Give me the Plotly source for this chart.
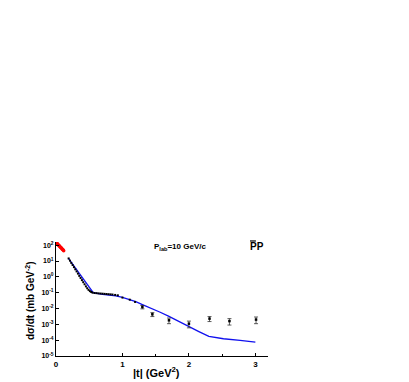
import plotly.graph_objects as go

# Red data points (Coulomb-nuclear region)
red_t = [0.004, 0.012, 0.020, 0.028, 0.036, 0.044, 0.052, 0.060, 0.068, 0.076, 0.084, 0.092, 0.100, 0.108, 0.116]
red_y = [150, 135, 122, 112, 102, 95, 88, 80, 74, 68, 63, 58, 53, 49, 45]

# Black data points (error bars visible only at large |t|)
data_t = [0.19, 0.21, 0.23, 0.25, 0.27, 0.29, 0.31, 0.33, 0.35, 0.37, 0.39, 0.41, 0.43, 0.45, 0.47,
          0.49, 0.51, 0.53, 0.55, 0.58, 0.61, 0.64, 0.67, 0.70, 0.73, 0.76, 0.79, 0.82, 0.85,
          0.89, 0.93, 1.00, 1.11, 1.19, 1.30, 1.45, 1.70, 2.00, 2.31, 2.61, 3.01]
data_y = [14.5, 10.5, 7.6, 5.6, 4.1, 3.0, 2.2, 1.6, 1.15, 0.85, 0.62, 0.46, 0.34, 0.25, 0.19,
          0.15, 0.125, 0.11, 0.10, 0.095, 0.093, 0.090, 0.088, 0.086, 0.084, 0.082, 0.080, 0.078, 0.076,
          0.072, 0.068, 0.049, 0.036, 0.026, 0.0125, 0.0043, 0.0018, 0.0011, 0.0023, 0.0016, 0.0020]
data_err = [0, 0, 0, 0, 0, 0, 0, 0, 0, 0, 0, 0, 0, 0, 0,
            0, 0, 0, 0, 0, 0, 0, 0, 0, 0, 0, 0, 0, 0,
            0, 0, 0, 0, 0, 0.0030, 0.0012, 0.0007, 0.0005, 0.0008, 0.0007, 0.0009]

# Model curve (blue line)
curve_t = [0.185, 0.30, 0.40, 0.50, 0.56, 0.70, 0.90, 1.00, 1.10, 1.20, 1.30, 1.40, 1.56, 1.70,
           1.86, 2.00, 2.15, 2.30, 2.52, 2.77, 3.00]
curve_y = [15.1, 3.2, 0.85, 0.22, 0.10, 0.079, 0.063, 0.050, 0.038, 0.0275, 0.0178, 0.0112, 0.0060, 0.0032,
           0.0014, 0.00071, 0.00035, 0.000174, 0.000123, 0.0000977, 0.0000759]

ytick_vals = [1e2, 1e1, 1e0, 1e-1, 1e-2, 1e-3, 1e-4, 1e-5]
ytick_text = ["10<sup>2</sup>", "10<sup>1</sup>", "10<sup>0</sup>", "10<sup>-1</sup>",
              "10<sup>-2</sup>", "10<sup>-3</sup>", "10<sup>-4</sup>", "10<sup>-5</sup>"]
xtick_vals = [0, 1, 2, 3]
xtick_text = ["0", "1", "2", "3"]

font_family = "Liberation Sans, Arial, sans-serif"

# split points: those without visible error bars and those with
n_plain = sum(1 for e in data_err if e == 0)

fig = go.Figure()
fig.add_trace(go.Scatter(
    x=curve_t, y=curve_y, mode="lines",
    line=dict(color="#1010ee", width=1.3), showlegend=False))
fig.add_trace(go.Scatter(
    x=data_t[:n_plain], y=data_y[:n_plain], mode="markers",
    marker=dict(color="black", size=2, symbol="square"),
    showlegend=False))
fig.add_trace(go.Scatter(
    x=data_t[n_plain:], y=data_y[n_plain:], mode="markers",
    marker=dict(color="black", size=2.5, symbol="square"),
    error_y=dict(type="data", array=data_err[n_plain:], color="#333333", thickness=0.8, width=2),
    showlegend=False))
fig.add_trace(go.Scatter(
    x=red_t, y=red_y, mode="markers",
    marker=dict(color="red", size=3.5),
    showlegend=False))

fig.update_layout(
    width=401, height=374,
    margin=dict(l=48, r=141, t=234, b=26, pad=0, autoexpand=False),
    paper_bgcolor="white", plot_bgcolor="white",
    font=dict(family=font_family, color="black", size=8, weight="bold"),
    xaxis=dict(
        range=[0, 3.19], tickvals=xtick_vals, ticktext=xtick_text,
        showgrid=False, zeroline=False, showline=True, linecolor="black", linewidth=1,
        ticks="inside", ticklen=3, tickcolor="black",
        minor=dict(tickvals=[0.5, 1.5, 2.5], ticks="inside", ticklen=2, tickcolor="black"),
        tickfont=dict(size=8, family=font_family, weight="bold"),
        automargin=False,
    ),
    yaxis=dict(
        type="log", range=[-5, 2.2], tickvals=ytick_vals, ticktext=ytick_text,
        showgrid=False, zeroline=False, showline=True, linecolor="black", linewidth=1,
        ticks="inside", ticklen=3, tickcolor="black",
        tickfont=dict(size=7, family=font_family, weight="bold"),
        automargin=False,
    ),
    annotations=[
        dict(text="dσ/dt (mb GeV<sup>-2</sup>)", xref="paper", yref="paper", x=-0.123, y=0.49,
             xanchor="center", yanchor="middle",
             textangle=-90, showarrow=False, font=dict(size=10, family=font_family, weight="bold")),
        dict(text="|t| (GeV<sup>2</sup>)", xref="paper", yref="paper", x=0.476, y=-0.14,
             xanchor="center", yanchor="middle",
             showarrow=False, font=dict(size=11, family=font_family, weight="bold")),
        dict(text="P<sub>lab</sub>=10 GeV/c", xref="paper", yref="paper", x=0.585, y=0.952,
             xanchor="center", yanchor="middle",
             showarrow=False, font=dict(size=8, family=font_family, weight="bold")),
        dict(text="PP", xref="paper", yref="paper", x=0.948, y=0.96,
             xanchor="center", yanchor="middle",
             showarrow=False, font=dict(size=10, family=font_family, weight="bold")),
    ],
    shapes=[
        dict(type="line", xref="paper", yref="paper", x0=0.915, x1=0.943, y0=1.009, y1=1.009,
             line=dict(color="black", width=1.2)),
    ],
)

fig.write_html("out.html")
